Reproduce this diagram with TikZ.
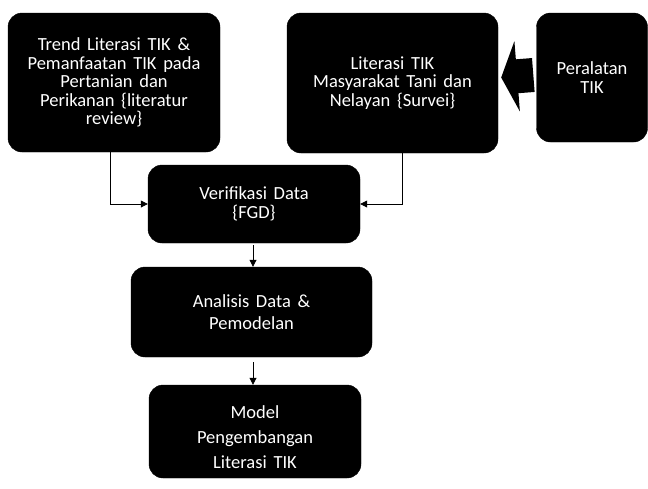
\documentclass[tikz,border=0pt]{standalone}
\usepackage{fontspec}
\setmainfont[WordSpace=1.6]{Carlito}
\usetikzlibrary{arrows.meta, positioning, calc}

\tikzset{
  blok/.style={draw=black, fill=black, text=white, rounded corners=14pt,
               align=center, inner sep=2pt, font=\fontsize{18.5}{18.5}\selectfont},
  panah/.style={-{Triangle[length=7pt,width=7pt]}, line width=0.8pt},
  panahbesar/.style={-{Triangle[length=16pt,width=70pt]}, line width=34pt}
}

\begin{document}
\begin{tikzpicture}[x=1pt, y=-1pt]
  \useasboundingbox (0,0) rectangle (648,488);
  % kotak atas
  \node[blok, minimum width=212pt, minimum height=139pt] (trend) at (114,82.5)
    {Trend Literasi TIK \&\\Pemanfaatan TIK pada\\Pertanian dan\\Perikanan \{literatur\\review\}};
  \node[blok, minimum width=211pt, minimum height=140pt] (survei) at (392.5,83)
    {Literasi TIK\\Masyarakat Tani dan\\Nelayan \{Survei\}};
  \node[blok, minimum width=111pt, minimum height=129pt] (alat) at (592,77.5)
    {Peralatan\\TIK};
  % alur tengah
  \node[blok, minimum width=212pt, minimum height=78pt] (verif) at (254,204)
    {Verifikasi Data\\[1pt]\{FGD\}};
  \node[blok, minimum width=241pt, minimum height=90pt] (analisis) at (251.5,312)
    {Analisis Data \&\\[3pt]Pemodelan};
  \node[blok, minimum width=212pt, minimum height=93pt] (model) at (255,431.5)
    {\rule{0pt}{24pt}Model\\[6.5pt]Pengembangan\\[6.5pt]Literasi TIK};
  % penghubung
  \draw[panahbesar] ([xshift=-3pt,yshift=2.5pt]alat.west) -- ([xshift=3pt]alat.west -| survei.east);
  \draw[panah] ([xshift=-4pt]trend.south) |- (verif.west);
  \draw[panah] ([xshift=9.5pt]survei.south) |- (verif.east);
  \draw[panah] ([xshift=-1pt,yshift=-2pt]verif.south) -- ([xshift=-1pt]verif.south |- analisis.north);
  \draw[panah] ([xshift=1.5pt,yshift=-5pt]analisis.south) -- ([xshift=1.5pt]analisis.south |- model.north);
\end{tikzpicture}
\end{document}
